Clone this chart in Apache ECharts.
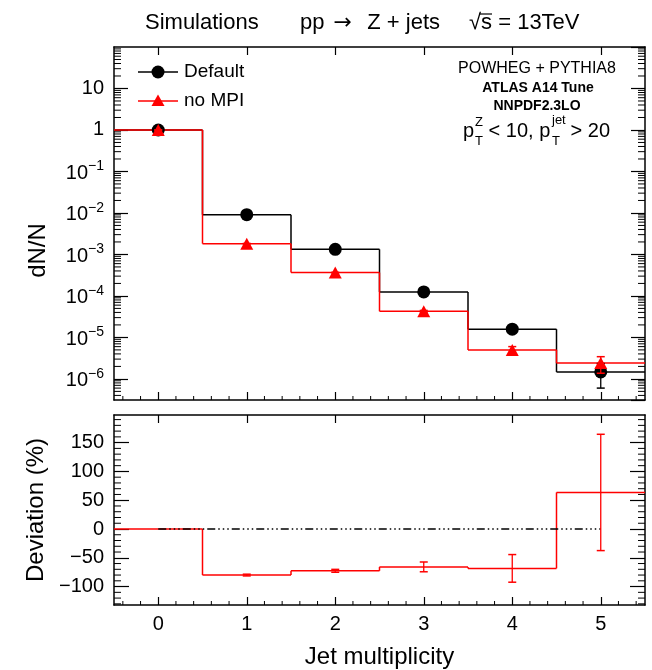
<!DOCTYPE html>
<html><head><meta charset="utf-8">
<script src="https://cdn.jsdelivr.net/npm/echarts@6/dist/echarts.min.js"></script>
<style>html,body{margin:0;padding:0;background:#fff}#c{width:652px;height:670px}</style>
</head><body><div id="c"></div>
<script>
// ---------------- data ----------------
const jets = [0, 1, 2, 3, 4, 5];
const defaultVals = [1.0, 9.1e-3, 1.33e-3, 1.25e-4, 1.58e-5, 1.47e-6];
const defaultErr  = [0.001, 5e-5, 1.5e-5, 5e-6, 2.5e-6, 0.87e-6];
const noMpiVals   = [1.0, 1.82e-3, 3.65e-4, 4.27e-5, 5.0e-6, 2.4e-6];
const noMpiErr    = [0.001, 2e-5, 5e-6, 2e-6, 1e-6, 1.03e-6];
const deviation    = [0, -80, -72.6, -65.8, -68.4, 63.5];
const deviationErr = [0, 1.5, 2.5, 8.5, 24, 101];
const devTicks = [-100, -50, 0, 50, 100, 150];
const refLineX = [0, 5];

// ---------------- settings ----------------
const FONT = "'Liberation Sans', Arial, Helvetica, sans-serif";
const RED = '#ff0000';
const xMin = -0.5, xMax = 5.5;
const yTopMin = 3.1e-7, yTopMax = 100;
const yLowMin = -132, yLowMax = 198;

const chart = echarts.init(document.getElementById('c'), null, {renderer: 'canvas'});

function seg(x1, y1, x2, y2, color, w) {
  return {type: 'line', shape: {x1, y1, x2, y2}, style: {stroke: color, lineWidth: w}};
}
function histData(vals) { return jets.map((x, i) => [x, vals[i], i > 0 ? vals[i - 1] : NaN]); }
function histRender(color) {
  return function (params, api) {
    const x = api.value(0), v = api.value(1), p = api.value(2);
    const a = api.coord([x - 0.5, v]), b = api.coord([x + 0.5, v]);
    const ch = [seg(a[0], a[1], b[0], b[1], color, 1.5)];
    if (!isNaN(p)) {
      const c = api.coord([x - 0.5, p]);
      ch.push(seg(a[0], c[1], a[0], a[1], color, 1.5));
    }
    return {type: 'group', children: ch};
  };
}
function errData(vals, errs) { return jets.map((x, i) => [x, vals[i], errs[i]]); }
function errRender(color) {
  return function (params, api) {
    const x = api.value(0), v = api.value(1), e = api.value(2);
    if (!(e > 0)) return null;
    const t = api.coord([x, v + e]), b = api.coord([x, v - e]);
    const cw = 4;
    return {type: 'group', children: [
      seg(t[0], t[1], b[0], b[1], color, 1.3),
      seg(t[0] - cw, t[1], t[0] + cw, t[1], color, 1.5),
      seg(b[0] - cw, b[1], b[0] + cw, b[1], color, 1.5)
    ]};
  };
}
// minor tick positions (axis decoration)
function minorTicks(yMin, yMax, yMinorVals, yLen, xLen) {
  const out = [];
  yMinorVals.forEach(v => out.push([xMin, v, 0, yLen]));
  for (let k = -5; k <= 55; k++) {
    const x = k / 10;
    if (k % 2 !== 0 || k % 10 === 0 || x <= xMin || x >= xMax) continue;
    out.push([x, yMin, 1, xLen, yMax]);
  }
  return out;
}
const logMinor = [];
for (let k = -7; k <= 1; k++) for (let m = 2; m <= 9; m++) {
  const v = m * Math.pow(10, k);
  if (v > yTopMin && v < yTopMax) logMinor.push(v);
}
const linMinor = [];
for (let v = -130; v <= 190; v += 10) if (v % 50 !== 0) linMinor.push(v);

function tickRender(params, api) {
  const kind = api.value(2), len = api.value(3);
  if (kind === 0) {
    const v = api.value(1);
    const l = api.coord([xMin, v]), r = api.coord([xMax, v]);
    return {type: 'group', children: [seg(l[0], l[1], l[0] + len, l[1], '#000', 1), seg(r[0], r[1], r[0] - len, r[1], '#000', 1)]};
  } else {
    const x = api.value(0);
    const b = api.coord([x, api.value(1)]), t = api.coord([x, api.value(4)]);
    return {type: 'group', children: [seg(b[0], b[1], b[0], b[1] - len, '#000', 1), seg(t[0], t[1], t[0], t[1] + len, '#000', 1)]};
  }
}

const lineStyle = {color: '#000', width: 1.5};
const tickStyle = {color: '#000', width: 1.2};
function xAx(grid, pos, labels, extra) {
  return Object.assign({
    gridIndex: grid, type: 'value', min: xMin, max: xMax, position: pos,
    axisLine: {show: true, onZero: false, lineStyle},
    axisTick: {show: true, inside: true, length: 8, customValues: jets, lineStyle: tickStyle},
    axisLabel: labels ? {show: true, customValues: jets, margin: 9, fontSize: 20, color: '#000', fontFamily: FONT} : {show: false},
    splitLine: {show: false}
  }, extra || {});
}
function logLabel(v) {
  const k = Math.round(Math.log10(v));
  if (k === 0) return '{b|1}';
  if (k === 1) return '{b|10}';
  return '{b|10}{sup|' + (k < 0 ? '\u2212' : '') + Math.abs(k) + '}';
}
const labelRich = {
  b: {fontSize: 20, fontFamily: FONT, color: '#000', lineHeight: 20, verticalAlign: 'bottom'},
  sup: {fontSize: 14, fontFamily: FONT, color: '#000', padding: [0, 0, 10, 0], verticalAlign: 'top'}
};
function yLog(pos, labels, extra) {
  return Object.assign({
    gridIndex: 0, type: 'log', logBase: 10, min: yTopMin, max: yTopMax, splitNumber: 9, position: pos,
    axisLine: {show: true, onZero: false, lineStyle},
    axisTick: {show: true, inside: true, length: 14, lineStyle: tickStyle},
    axisLabel: labels ? {show: true, formatter: logLabel, rich: labelRich, margin: 10, showMinLabel: false, showMaxLabel: false, color: '#000', fontFamily: FONT, fontSize: 20} : {show: false},
    splitLine: {show: false}
  }, extra || {});
}
function yLin(pos, labels, extra) {
  return Object.assign({
    gridIndex: 1, type: 'value', min: yLowMin, max: yLowMax, position: pos,
    axisLine: {show: true, onZero: false, lineStyle},
    axisTick: {show: true, inside: true, length: 15, customValues: devTicks, lineStyle: tickStyle},
    axisLabel: labels ? {show: true, customValues: devTicks, formatter: v => String(v).replace('-', '\u2212'), margin: 10, color: '#000', fontFamily: FONT, fontSize: 20} : {show: false},
    splitLine: {show: false}
  }, extra || {});
}
const nameStyle = {fontSize: 24, fontFamily: FONT, color: '#000'};

const option = {
  animation: false,
  backgroundColor: '#fff',
  grid: [
    {left: 114, top: 47, width: 531, height: 353},
    {left: 114, top: 415, width: 531, height: 192}
  ],
  xAxis: [
    xAx(0, 'bottom', false),
    xAx(0, 'top', false),
    xAx(1, 'bottom', true, {name: 'Jet multiplicity', nameLocation: 'middle', nameGap: 40, nameTextStyle: nameStyle}),
    xAx(1, 'top', false)
  ],
  yAxis: [
    yLog('left', true, {name: 'dN/N', nameLocation: 'middle', nameGap: 64, nameTextStyle: Object.assign({padding: [0, 54, 0, 0]}, nameStyle)}),
    yLog('right', false),
    yLin('left', true, {name: 'Deviation (%)', nameLocation: 'middle', nameGap: 64, nameTextStyle: nameStyle}),
    yLin('right', false)
  ],
  graphic: [
    {type: 'text', left: 145, top: 12, style: {text: 'Simulations', font: '22px ' + FONT, fill: '#000'}},
    {type: 'text', left: 300, top: 12, style: {text: 'pp {a|\u2192}  Z + jets', font: '22px ' + FONT, fill: '#000',
      rich: {a: {fontFamily: "'DejaVu Sans'", fontSize: 22, fill: '#000', padding: [0, 3, 0, 3]}}}},
    {type: 'text', left: 469, top: 12, style: {text: '\u221As = 13TeV', font: '22px ' + FONT, fill: '#000'}},
    {type: 'line', shape: {x1: 479, y1: 14, x2: 492, y2: 14}, style: {stroke: '#000', lineWidth: 1.2}},
    // legend
    {type: 'line', shape: {x1: 138, y1: 72, x2: 178, y2: 72}, style: {stroke: '#000', lineWidth: 1.5}},
    {type: 'circle', shape: {cx: 158, cy: 72, r: 6.5}, style: {fill: '#000'}},
    {type: 'text', x: 184, y: 72, style: {text: 'Default', font: '19px ' + FONT, fill: '#000', verticalAlign: 'middle'}},
    {type: 'line', shape: {x1: 138, y1: 101, x2: 178, y2: 101}, style: {stroke: RED, lineWidth: 1.5}},
    {type: 'polygon', shape: {points: [[158, 94.5], [164.5, 106], [151.5, 106]]}, style: {fill: RED}},
    {type: 'text', x: 184, y: 101, style: {text: 'no MPI', font: '19px ' + FONT, fill: '#000', verticalAlign: 'middle'}},
    // annotations
    {type: 'text', x: 537, y: 69, style: {text: 'POWHEG + PYTHIA8', font: '16px ' + FONT, fill: '#000', align: 'center', verticalAlign: 'middle'}},
    {type: 'text', x: 538, y: 88, style: {text: 'ATLAS A14 Tune', font: 'bold 14px ' + FONT, fill: '#000', align: 'center', verticalAlign: 'middle'}},
    {type: 'text', x: 537, y: 106, style: {text: 'NNPDF2.3LO', font: 'bold 14px ' + FONT, fill: '#000', align: 'center', verticalAlign: 'middle'}},
    {type: 'text', x: 463, y: 131, style: {text: 'p', font: '20px ' + FONT, fill: '#000', verticalAlign: 'middle'}},
    {type: 'text', x: 475, y: 122, style: {text: 'Z', font: '13px ' + FONT, fill: '#000', verticalAlign: 'middle'}},
    {type: 'text', x: 475, y: 141, style: {text: 'T', font: '13px ' + FONT, fill: '#000', verticalAlign: 'middle'}},
    {type: 'text', x: 483, y: 131, style: {text: ' < 10, p', font: '20px ' + FONT, fill: '#000', verticalAlign: 'middle'}},
    {type: 'text', x: 552, y: 120, style: {text: 'jet', font: '13px ' + FONT, fill: '#000', verticalAlign: 'middle'}},
    {type: 'text', x: 552, y: 141, style: {text: 'T', font: '13px ' + FONT, fill: '#000', verticalAlign: 'middle'}},
    {type: 'text', x: 565, y: 131, style: {text: ' > 20', font: '20px ' + FONT, fill: '#000', verticalAlign: 'middle'}}
  ],
  series: [
    {type: 'custom', name: 'ticksTop', xAxisIndex: 0, yAxisIndex: 0, silent: true, z: 1,
     data: minorTicks(yTopMin, yTopMax, logMinor, 7, 4), renderItem: tickRender},
    {type: 'custom', name: 'ticksLow', xAxisIndex: 2, yAxisIndex: 2, silent: true, z: 1,
     data: minorTicks(yLowMin, yLowMax, linMinor, 7, 4), renderItem: tickRender},
    {type: 'custom', name: 'Default hist', xAxisIndex: 0, yAxisIndex: 0, z: 2, data: histData(defaultVals), renderItem: histRender('#000')},
    {type: 'custom', name: 'no MPI hist', xAxisIndex: 0, yAxisIndex: 0, z: 3, data: histData(noMpiVals), renderItem: histRender(RED)},
    {type: 'custom', name: 'Default err', xAxisIndex: 0, yAxisIndex: 0, z: 4, data: errData(defaultVals, defaultErr), renderItem: errRender('#000')},
    {type: 'scatter', name: 'Default', xAxisIndex: 0, yAxisIndex: 0, z: 5, symbol: 'circle', symbolSize: 13,
     itemStyle: {color: '#000', opacity: 1}, data: jets.map((x, i) => [x, defaultVals[i]])},
    {type: 'scatter', name: 'no MPI', xAxisIndex: 0, yAxisIndex: 0, z: 6, symbol: 'triangle', symbolSize: [13, 12],
     itemStyle: {color: RED, opacity: 1}, data: jets.map((x, i) => [x, noMpiVals[i]])},
    {type: 'custom', name: 'no MPI err', xAxisIndex: 0, yAxisIndex: 0, z: 7, data: errData(noMpiVals, noMpiErr), renderItem: errRender(RED)},
    {type: 'custom', name: 'Deviation hist', xAxisIndex: 2, yAxisIndex: 2, z: 2, data: histData(deviation), renderItem: histRender(RED)},
    {type: 'line', name: 'zero', xAxisIndex: 2, yAxisIndex: 2, z: 3, symbol: 'none', silent: true,
     lineStyle: {color: '#000', width: 1.3, type: [8, 3, 1.5, 3, 1.5, 3, 1.5, 3]},
     data: refLineX.map(x => [x, 0])},
    {type: 'custom', name: 'Deviation err', xAxisIndex: 2, yAxisIndex: 2, z: 4, data: errData(deviation, deviationErr), renderItem: errRender(RED)}
  ]
};
chart.setOption(option);
</script></body></html>
